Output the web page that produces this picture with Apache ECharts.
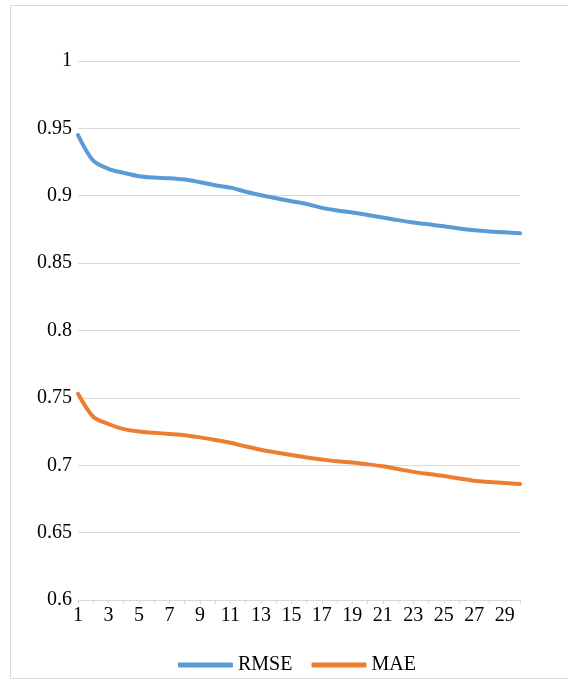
<!DOCTYPE html>
<html>
<head>
<meta charset="utf-8">
<script src="https://cdn.jsdelivr.net/npm/echarts@6/dist/echarts.min.js"></script>
<style>
html,body{margin:0;padding:0;background:#fff;}
#chart{width:568px;height:689px;}
</style>
</head>
<body>
<div id="chart"></div>
<script>
var categories = ['1','2','3','4','5','6','7','8','9','10','11','12','13','14','15','16','17','18','19','20','21','22','23','24','25','26','27','28','29','30'];
var rmse = [0.945,0.926,0.920,0.917,0.9145,0.9135,0.913,0.912,0.910,0.9078,0.906,0.903,0.9004,0.8982,0.8959,0.8939,0.891,0.889,0.8876,0.8857,0.8839,0.8819,0.8802,0.8788,0.8774,0.8757,0.8744,0.8735,0.8729,0.8721];
var mae = [0.753,0.736,0.7306,0.7268,0.725,0.7241,0.7232,0.7222,0.7207,0.7188,0.7167,0.714,0.7115,0.7095,0.7076,0.7058,0.7043,0.7029,0.702,0.7007,0.6992,0.6972,0.6951,0.6935,0.692,0.6902,0.6885,0.6876,0.6868,0.6861];
var seriesNames = ['RMSE','MAE'];
var yMin = 0.6, yMax = 1, yStep = 0.05;

var chart = echarts.init(document.getElementById('chart'), null, {renderer:'canvas'});
var font = '"Liberation Serif","Times New Roman",serif';
chart.setOption({
  animation:false,
  backgroundColor:'#fff',
  graphic:[{type:'rect',shape:{x:10.5,y:5.5,width:570,height:673},style:{fill:'none',stroke:'#d9d9d9',lineWidth:1},z:-1}],
  grid:{left:78,right:48,top:61,bottom:89,containLabel:false},
  legend:{
    data:seriesNames,left:173,top:650,itemWidth:55,itemHeight:5,itemGap:19,icon:'roundRect',
    textStyle:{fontFamily:font,fontSize:20,color:'#000'}
  },
  xAxis:{
    type:'category',data:categories,boundaryGap:false,
    axisLine:{lineStyle:{color:'#d9d9d9',width:1}},
    axisTick:{show:true,alignWithLabel:true,interval:0,lineStyle:{color:'#d9d9d9'},length:4},
    axisLabel:{interval:1,margin:6,fontFamily:font,fontSize:20,color:'#000'},
    splitLine:{show:false}
  },
  yAxis:{
    type:'value',min:yMin,max:yMax,interval:yStep,
    axisLine:{show:false},axisTick:{show:false},
    axisLabel:{margin:6,fontFamily:font,fontSize:20,color:'#000',
      formatter:function(v){return String(parseFloat(v.toFixed(2)));}},
    splitLine:{lineStyle:{color:'#d9d9d9',width:1}}
  },
  series:[
    {name:seriesNames[0],type:'line',data:rmse,showSymbol:false,symbol:'none',smooth:0.3,
     lineStyle:{color:'#5b9bd5',width:4,cap:'round',join:'round'},itemStyle:{color:'#5b9bd5'}},
    {name:seriesNames[1],type:'line',data:mae,showSymbol:false,symbol:'none',smooth:0.3,
     lineStyle:{color:'#ed7d31',width:4,cap:'round',join:'round'},itemStyle:{color:'#ed7d31'}}
  ]
});
</script>
</body>
</html>
